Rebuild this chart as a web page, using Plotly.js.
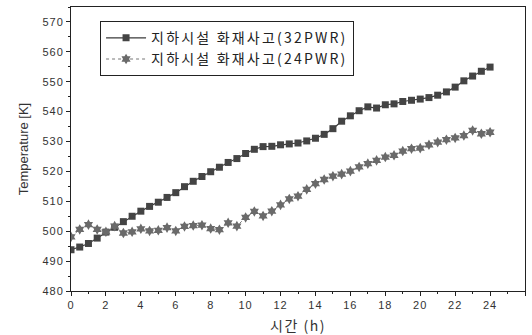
<!DOCTYPE html>
<html>
<head>
<meta charset="utf-8">
<script src="https://cdn.plot.ly/plotly-3.0.1.min.js"></script>
<style>
html,body{margin:0;padding:0;background:#fff;}
#chart{width:532px;height:335px;}
.legendtext{letter-spacing:2.2px;}
.xtick text, .ytick text{letter-spacing:1px;}
.g-xtitle text{letter-spacing:1.5px;}
</style>
</head>
<body>
<div id="chart"></div>
<script>
const timeH = [0,0.5,1,1.5,2,2.5,3,3.5,4,4.5,5,5.5,6,6.5,7,7.5,8,8.5,9,9.5,10,10.5,11,11.5,12,12.5,13,13.5,14,14.5,15,15.5,16,16.5,17,17.5,18,18.5,19,19.5,20,20.5,21,21.5,22,22.5,23,23.5,24];
const pwr32 = [493.8,494.7,495.9,497.7,499.7,501.3,503.2,505.0,506.7,508.3,509.7,511.3,512.9,514.9,516.7,518.3,519.9,521.4,523.0,524.3,526.0,527.4,528.3,528.4,528.9,529.2,529.5,530.2,531.1,532.4,534.3,536.8,538.6,540.3,541.6,541.2,542.3,542.6,543.4,543.8,544.2,544.7,545.5,546.6,548.2,550.3,551.9,553.5,554.9];
const pwr24 = [498.1,500.6,502.2,500.6,499.8,501.7,499.4,499.8,500.8,500.1,500.3,501.2,500.1,501.6,501.9,502.0,500.9,500.5,502.8,501.7,504.6,506.6,505.1,506.7,508.8,510.8,511.7,514.0,515.9,517.3,518.4,519.1,520.1,521.5,522.6,523.7,524.8,525.4,526.8,527.6,527.8,528.9,529.8,530.6,531.2,532.0,533.7,532.6,533.1];
const name32 = '지하시설 화재사고(32PWR)';
const name24 = '지하시설 화재사고(24PWR)';
const xTitle = '시간 (h)';
const yTitle = 'Temperature [K]';

const traces = [
  {x: timeH, y: pwr32, name: name32, type: 'scatter', mode: 'lines+markers',
   line: {color: '#3a3a3a', width: 1.2},
   marker: {symbol: 'square', size: 7, color: '#444'}},
  {x: timeH, y: pwr24, name: name24, type: 'scatter', mode: 'lines+markers',
   line: {color: '#777', width: 1, dash: 'dot'},
   marker: {symbol: 'hexagram', size: 8, color: '#6a6a6a'}}
];

const axisCommon = {
  showline: true, linecolor: '#222', linewidth: 1, mirror: true,
  ticks: 'outside', ticklen: 4, tickcolor: '#222', showgrid: false, zeroline: false,
  tickfont: {family: 'Liberation Sans, Arial, sans-serif', size: 11, color: '#333'}
};

const layout = {
  width: 532, height: 335,
  margin: {l: 71, r: 7, t: 7, b: 44},
  paper_bgcolor: '#fff', plot_bgcolor: '#fff',
  showlegend: true,
  legend: {x: 0.064, y: 0.95, xanchor: 'left', yanchor: 'top',
    bgcolor: '#fff', bordercolor: '#222', borderwidth: 1,
    font: {family: 'Noto Sans CJK KR, sans-serif', size: 14, color: '#222'},
    itemwidth: 40, tracegroupgap: 0},
  xaxis: Object.assign({}, axisCommon, {
    range: [0, 26], dtick: 2, tick0: 0,
    minor: {dtick: 1, ticks: 'outside', ticklen: 2, tickcolor: '#222'},
    title: {text: xTitle, standoff: 10, font: {family: 'Noto Sans CJK KR, sans-serif', size: 14, color: '#333'}}
  }),
  yaxis: Object.assign({}, axisCommon, {
    range: [480, 575], dtick: 10, tick0: 480,
    minor: {dtick: 5, ticks: 'outside', ticklen: 2, tickcolor: '#222'},
    title: {text: yTitle, standoff: 10, font: {family: 'Liberation Sans, Arial, sans-serif', size: 13, color: '#333'}}
  })
};

Plotly.newPlot('chart', traces, layout, {displayModeBar: false, staticPlot: true});
</script>
</body>
</html>
